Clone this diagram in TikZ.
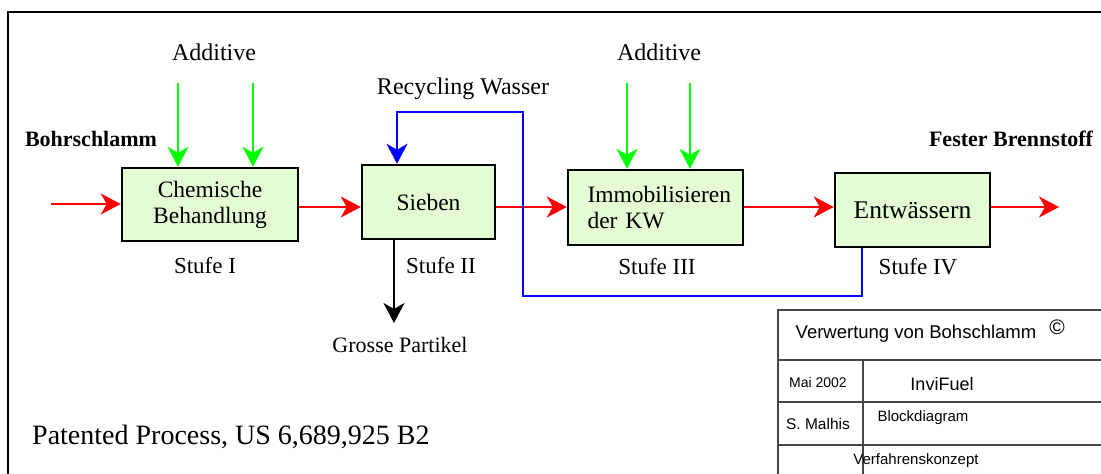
\documentclass[tikz,border=0pt]{standalone}
\usepackage{fontspec}
\setmainfont{Liberation Serif}
\setsansfont{Liberation Sans}
\usetikzlibrary{arrows.meta}

\definecolor{boxfill}{RGB}{228,252,212}
\definecolor{flowred}{RGB}{255,0,0}
\definecolor{addgreen}{RGB}{0,255,0}
\definecolor{recblue}{RGB}{0,0,255}
\definecolor{tablegray}{RGB}{70,70,70}

\tikzset{
  stagebox/.style={draw=black, line width=2.5pt, fill=boxfill, inner sep=0pt,
    font=\fontsize{23.5}{26}\selectfont, align=center},
  tip/.style={-{Stealth[length=20pt,width=21pt,inset=6pt]}},
  flow/.style={tip, draw=flowred, line width=2pt},
  additive/.style={tip, draw=addgreen, line width=2pt},
  recycle/.style={tip, draw=recblue, line width=2.2pt},
  reject/.style={tip, draw=black, line width=2.2pt},
  lbl/.style={font=\fontsize{23}{26}\selectfont, inner sep=0pt},
  boldlbl/.style={font=\fontsize{22}{26}\selectfont\bfseries, inner sep=0pt},
  tbl/.style={font=\sffamily\fontsize{15}{18}\selectfont, inner sep=0pt},
  tblbig/.style={font=\sffamily\fontsize{18}{20}\selectfont, inner sep=0pt},
  tblline/.style={draw=tablegray, line width=1.2pt},
}

\begin{document}
\begin{tikzpicture}[x=1pt,y=-1pt]
  \useasboundingbox (0,0) rectangle (1101,474);

  % sheet frame
  \draw[line width=1.6pt] (8,474) -- (8,12) -- (1101,12);

  % process stages
  \node[stagebox, minimum width=176pt, minimum height=73pt] (b1) at (210,204.5)
    {Chemische\\Behandlung};
  \node[stagebox, minimum width=133pt, minimum height=74pt] (b2) at (428.5,202)
    {Sieben};
  \node[stagebox, minimum width=175pt, minimum height=75pt, align=left,
        text width=136pt] (b3) at (655.5,207.5)
    {Immobilisieren\\der KW};
  \node[stagebox, minimum width=155pt, minimum height=74pt,
        font=\fontsize{25.5}{28}\selectfont] (b4) at (912.5,210)
    {Entwässern};

  % stage labels
  \node[lbl] (s1) at (205,266) {Stufe I};
  \node[lbl] (s2) at (441,266) {Stufe II};
  \node[lbl] (s3) at (657,267) {Stufe III};
  \node[lbl] (s4) at (918,267) {Stufe IV};

  % inputs and outputs
  \node[boldlbl] (feed) at (91,139) {Bohrschlamm};
  \node[boldlbl] (prod) at (1011,139) {Fester Brennstoff};
  \node[lbl, font=\fontsize{24}{26}\selectfont] (add1) at (214,52) {Additive};
  \node[lbl, font=\fontsize{24}{26}\selectfont] (add2) at (659,52) {Additive};
  \node[lbl, font=\fontsize{24}{26}\selectfont] (rw) at (463,89) {Recycling Wasser};
  \node[lbl, font=\fontsize{22}{26}\selectfont] (gp) at (400,345) {Grosse Partikel};
  \node[font=\fontsize{28}{32}\selectfont, inner sep=0pt, anchor=west] (pat)
    at (32,437) {Patented Process, US 6,689,925 B2};

  % main material flow
  \coordinate (fy) at (0,207);
  \coordinate (in) at (51,204);
  \coordinate (out) at (1059,207);
  \draw[flow] (in) -- (b1.west |- in);
  \draw[flow] (b1.east |- fy) -- (b2.west |- fy);
  \draw[flow] (b2.east |- fy) -- (b3.west |- fy);
  \draw[flow] (b3.east |- fy) -- (b4.west |- fy);
  \draw[flow] (b4.east |- fy) -- (out);

  % additive feeds
  \coordinate (a1) at (178,83);
  \coordinate (a2) at (253,83);
  \coordinate (a3) at (627,83);
  \coordinate (a4) at (690,83);
  \draw[additive] (a1) -- (a1 |- b1.north);
  \draw[additive] (a2) -- (a2 |- b1.north);
  \draw[additive] (a3) -- (a3 |- b3.north);
  \draw[additive] (a4) -- (a4 |- b3.north);

  % recycled water loop
  \coordinate (r1) at (862,296);
  \coordinate (r2) at (523,112);
  \coordinate (r3) at (397,112);
  \draw[recycle] (r1 |- b4.south) -- (r1) -| (r2) -- (r3) -- (r3 |- b2.north);

  % coarse particles
  \coordinate (cp) at (394,323);
  \draw[reject] (cp |- b2.south) -- (cp);

  % title block
  \draw[tblline] (778,474) -- (778,310) -- (1101,310);
  \draw[tblline] (778,360) -- (1101,360);
  \draw[tblline] (778,402) -- (1101,402);
  \draw[tblline] (778,445) -- (1101,445);
  \draw[tblline] (863,360) -- (863,474);
  \node[tbl, font=\sffamily\fontsize{18.5}{20}\selectfont] (t1) at (916,334) {Verwertung von Bohschlamm};
  \node[tbl, font=\sffamily\fontsize{21}{22}\selectfont] (cr) at (1057,327) {\textcopyright};
  \node[tbl, font=\sffamily\fontsize{14}{16}\selectfont] (t2) at (818,382) {Mai 2002};
  \node[tblbig] (t3) at (942,384) {InviFuel};
  \node[tbl, font=\sffamily\fontsize{15.5}{16}\selectfont] (t4) at (818,424) {S. Malhis};
  \node[tbl] (t5) at (923,418) {Blockdiagram};
  \node[tbl] (t6) at (916,461) {Verfahrenskonzept};
\end{tikzpicture}
\end{document}
